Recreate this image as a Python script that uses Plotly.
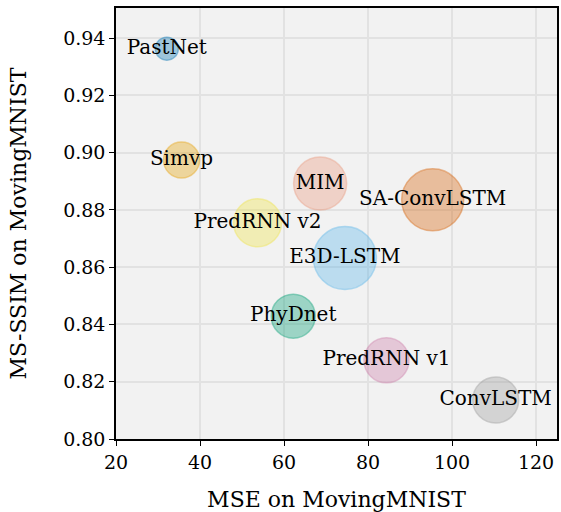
import plotly.graph_objects as go

models = ["PastNet", "Simvp", "MIM", "SA-ConvLSTM", "PredRNN v2",
          "E3D-LSTM", "PhyDnet", "PredRNN v1", "ConvLSTM"]
mse = [32.1, 35.6, 68.6, 95.4, 53.7, 74.5, 62.2, 84.4, 110.4]
ms_ssim = [0.9363, 0.8974, 0.8892, 0.8835, 0.8755, 0.8632, 0.8429, 0.8275, 0.8136]
bubble = [23, 36, 53, 62, 48, 63, 44, 45, 46]
base_colors = ["0,114,178", "230,159,0", "233,150,122", "213,94,0", "240,228,66",
               "86,180,233", "0,158,115", "204,121,167", "153,153,153"]

x_ticks = [20, 40, 60, 80, 100, 120]
y_ticks = [0.80, 0.82, 0.84, 0.86, 0.88, 0.90, 0.92, 0.94]

FONT = "DejaVu Serif"

fig = go.Figure()
fig.add_trace(go.Scatter(
    x=mse, y=ms_ssim, mode="markers+text",
    text=models, textposition="middle center",
    textfont=dict(family=FONT, size=20, color="black"),
    marker=dict(size=bubble,
                color=[f"rgba({c},0.5)" for c in base_colors],
                line=dict(color=[f"rgba({c},0.6)" for c in base_colors], width=1.5)),
    showlegend=False, cliponaxis=False,
))

axis_common = dict(
    showline=True, linecolor="black", linewidth=1.5, mirror=True,
    ticks="outside", ticklen=5, tickwidth=1.3, tickcolor="black",
    showgrid=True, gridcolor="#e2e2e2", gridwidth=1.5, zeroline=False,
    tickfont=dict(family=FONT, size=19, color="black"),
    automargin=False,
)

fig.update_layout(
    width=561, height=512,
    margin=dict(l=116, r=4, t=8, b=73),
    paper_bgcolor="white", plot_bgcolor="#f2f2f2",
    font=dict(family=FONT, color="black"),
    xaxis=dict(range=[20, 125], tickvals=x_ticks,
               ticktext=[str(v) for v in x_ticks],
               title=dict(text="MSE on MovingMNIST", font=dict(family=FONT, size=22), standoff=25),
               **axis_common),
    yaxis=dict(range=[0.80, 0.9505], tickvals=y_ticks,
               ticktext=[f"{v:.2f}" for v in y_ticks],
               title=dict(text="MS-SSIM on MovingMNIST", font=dict(family=FONT, size=22), standoff=30),
               **axis_common),
)

fig.write_html("out.html", config={"displayModeBar": False},
               post_script="document.body.style.margin='0px';")
